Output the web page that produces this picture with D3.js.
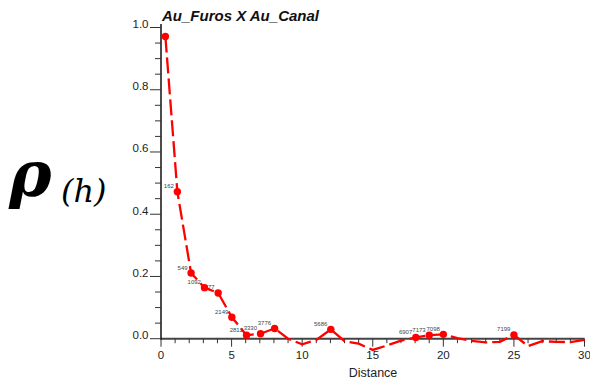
<!DOCTYPE html>
<html>
<head>
<meta charset="utf-8">
<script src="https://cdn.jsdelivr.net/npm/d3@7"></script>
<style>
  html, body { margin: 0; padding: 0; background: #fff; }
</style>
</head>
<body>
<div id="container"></div>
<script>
// correlogram line (value at each lag)
const lineLags = [0.31, 1.16, 2.13, 3.08, 4.05, 5.02, 6.06, 7.05, 8.05, 9, 10, 11, 12.03, 13, 14, 15, 16, 17, 18.05, 19, 20, 21, 22, 23, 24, 25, 26, 27, 28, 29, 30];
const lineRho = [0.971, 0.472, 0.211, 0.164, 0.147, 0.069, 0.011, 0.016, 0.033, 0.0, -0.018, -0.004, 0.030, -0.008, -0.016, -0.036, -0.022, -0.006, 0.004, 0.011, 0.014, 0.002, -0.007, -0.012, -0.010, 0.012, -0.024, -0.008, -0.010, -0.011, -0.004];

// marked lags with number of pairs
const pointLags = [0.31, 1.16, 2.13, 3.08, 4.05, 5.02, 6.06, 7.05, 8.05, 12.03, 18.05, 19, 20, 25];
const pointRho = [0.971, 0.472, 0.211, 0.164, 0.147, 0.069, 0.011, 0.016, 0.033, 0.030, 0.004, 0.011, 0.014, 0.012];
const pointPairs = ["", "162", "549", "1092", "1877", "2149", "2812", "3330", "3776", "5686", "6907", "7173", "7098", "7199"];

const yMajor = [0, 0.2, 0.4, 0.6, 0.8, 1.0];
const xMajor = [0, 5, 10, 15, 20, 25, 30];

const width = 590;
const height = 381;

const svg = d3.create("svg")
    .attr("width", width)
    .attr("height", height)
    .style("font-family", "'Liberation Sans', Arial, sans-serif");

const x = d3.scaleLinear().domain([0, 30]).range([161, 584.5]);
const y = d3.scaleLinear().domain([0, 1]).range([338.7, 27.5]);

// x axis
svg.append("line")
    .attr("x1", x(0)).attr("x2", x(30))
    .attr("y1", y(0)).attr("y2", y(0))
    .attr("stroke", "#444")
    .attr("stroke-width", 2);

svg.selectAll("line.x-tick")
    .data(d3.range(0, 31))
    .enter()
    .append("line")
    .attr("class", "x-tick")
    .attr("x1", d => x(d)).attr("x2", d => x(d))
    .attr("y1", y(0))
    .attr("y2", d => y(0) + (d % 5 === 0 ? 8 : 4.5))
    .attr("stroke", "#333")
    .attr("stroke-width", 1);

svg.selectAll("text.x-label")
    .data(xMajor)
    .enter()
    .append("text")
    .attr("class", "x-label")
    .attr("x", d => x(d))
    .attr("y", 358.5)
    .attr("text-anchor", "middle")
    .attr("font-size", "11.5px")
    .attr("fill", "#222")
    .text(d => d);

svg.append("text")
    .attr("x", 373)
    .attr("y", 377)
    .attr("text-anchor", "middle")
    .attr("font-size", "12.5px")
    .attr("fill", "#222")
    .text("Distance");

// y axis
svg.append("line")
    .attr("x1", x(0)).attr("x2", x(0))
    .attr("y1", y(0) + 1).attr("y2", 24)
    .attr("stroke", "#111")
    .attr("stroke-width", 1.5);

svg.selectAll("line.y-tick")
    .data(d3.range(0, 21).map(i => i * 0.05))
    .enter()
    .append("line")
    .attr("class", "y-tick")
    .attr("x1", d => x(0) - (Math.round(d * 20) % 4 === 0 ? 11 : 6))
    .attr("x2", x(0))
    .attr("y1", d => y(d)).attr("y2", d => y(d))
    .attr("stroke", "#333")
    .attr("stroke-width", 1);

svg.selectAll("text.y-label")
    .data(yMajor)
    .enter()
    .append("text")
    .attr("class", "y-label")
    .attr("x", 148.5)
    .attr("y", d => y(d) + 0.5)
    .attr("text-anchor", "end")
    .attr("font-size", "11.5px")
    .attr("fill", "#222")
    .text(d => d.toFixed(1));

// title
svg.append("text")
    .attr("x", 162)
    .attr("y", 20.5)
    .attr("font-size", "15px")
    .attr("font-weight", "bold")
    .attr("font-style", "italic")
    .attr("fill", "#111")
    .text("Au_Furos X Au_Canal");

// rho(h) label
const rhoLabel = svg.append("text")
    .attr("x", 9)
    .attr("y", 196)
    .attr("font-family", "'DejaVu Serif', serif")
    .attr("fill", "#000");
rhoLabel.append("tspan")
    .attr("font-size", "64px")
    .attr("font-weight", "bold")
    .attr("font-style", "italic")
    .text("ρ");
rhoLabel.append("tspan")
    .attr("x", 61)
    .attr("y", 202)
    .attr("font-size", "32px")
    .attr("font-style", "italic")
    .text("(h)");

// pair counts
svg.selectAll("text.pairs")
    .data(pointLags.map((d, i) => ({lag: d, rho: pointRho[i], pairs: pointPairs[i]})))
    .enter()
    .append("text")
    .attr("class", "pairs")
    .attr("x", d => x(d.lag) - 3.5)
    .attr("y", d => y(d.rho) - 3.5)
    .attr("text-anchor", "end")
    .attr("font-size", "6px")
    .attr("fill", "#444")
    .text(d => d.pairs);

// correlogram line
const rhoLine = d3.line()
    .x((d, i) => x(lineLags[i]))
    .y(d => y(d));

svg.append("path")
    .datum(lineRho)
    .attr("d", rhoLine)
    .attr("fill", "none")
    .attr("stroke", "#ff0000")
    .attr("stroke-width", 2.3)
    .attr("stroke-dasharray", "16,5");

svg.selectAll("circle.pt")
    .data(pointLags)
    .enter()
    .append("circle")
    .attr("class", "pt")
    .attr("cx", d => x(d))
    .attr("cy", (d, i) => y(pointRho[i]))
    .attr("r", 3.7)
    .attr("fill", "#ff0000");

d3.select("#container").append(() => svg.node());
</script>
</body>
</html>
